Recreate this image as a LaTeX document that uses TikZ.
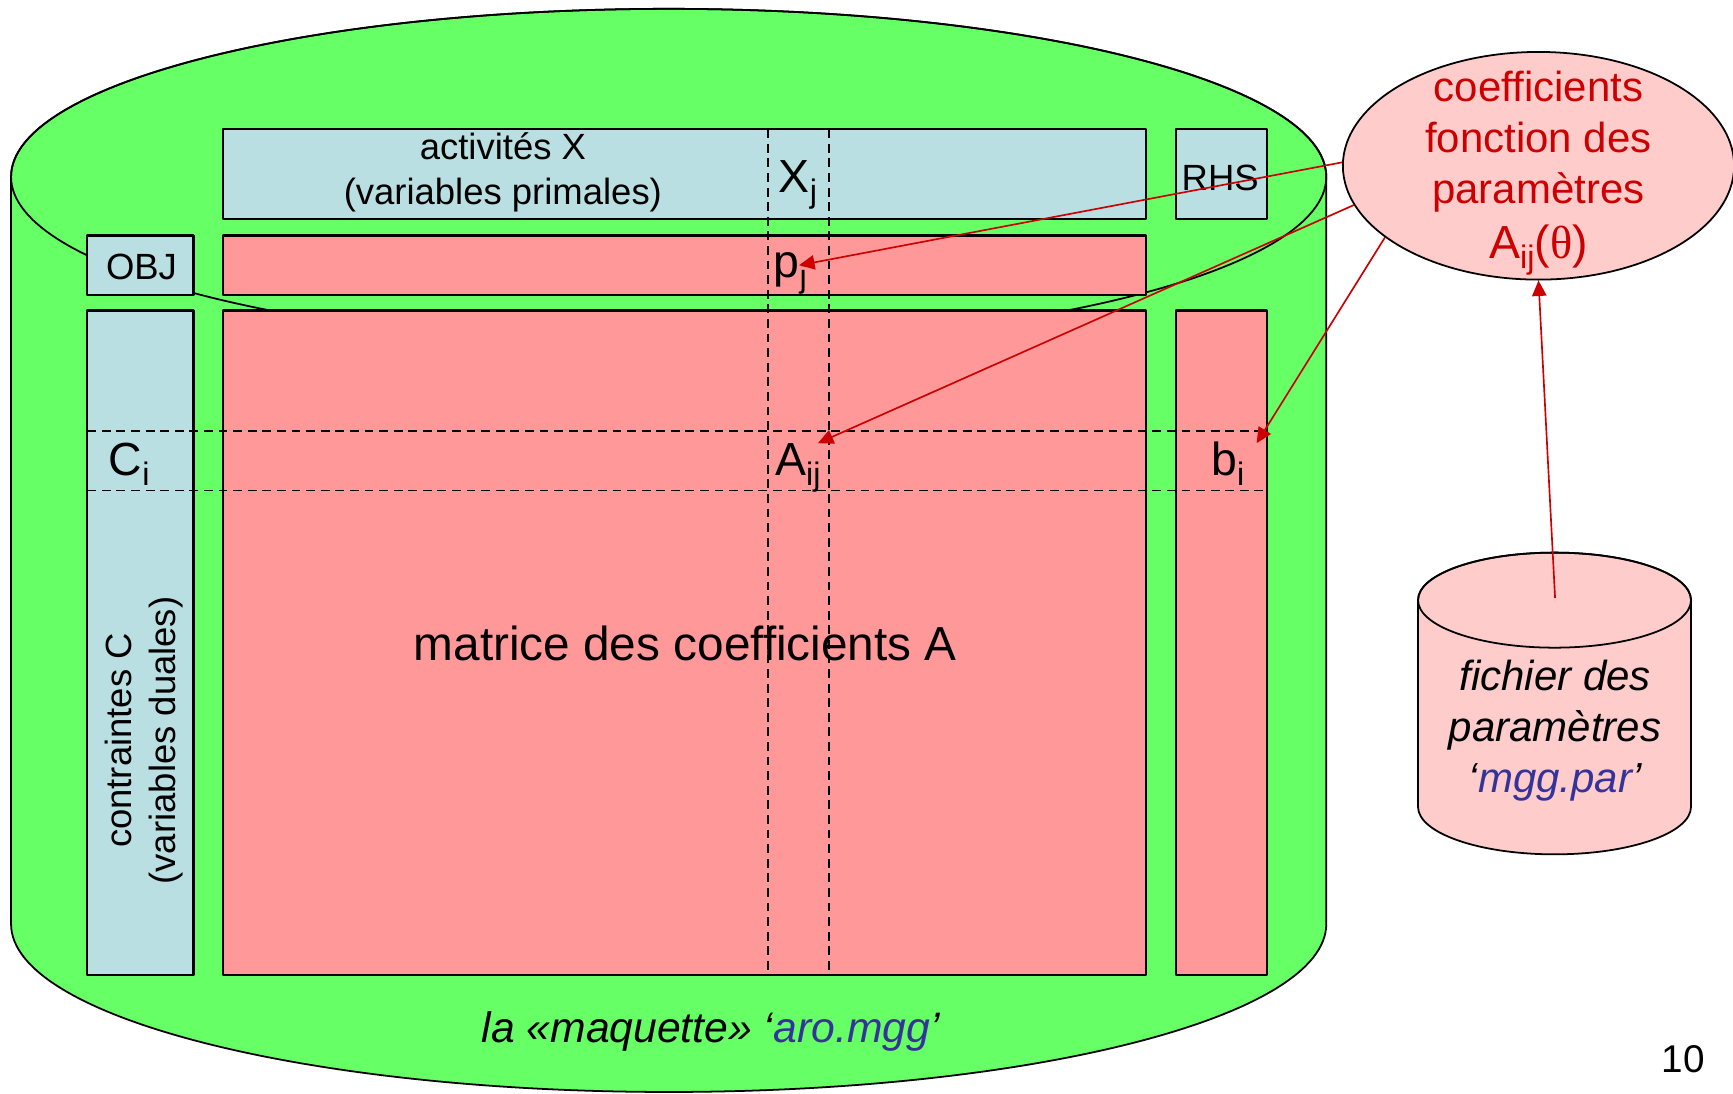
\documentclass[tikz,border=0pt]{standalone}
\usepackage{graphicx}
\usepackage{fontspec}
\setmainfont{Liberation Sans}
\newfontfamily\greekserif{Liberation Serif}
\usetikzlibrary{arrows.meta,fit,shapes.geometric}

\definecolor{modelgreen}{HTML}{66FF66}
\definecolor{headblue}{HTML}{BADFE2}
\definecolor{cellred}{HTML}{FF9999}
\definecolor{parampink}{HTML}{FFCCCC}
\definecolor{linkred}{HTML}{CC0000}
\definecolor{fileblue}{HTML}{333399}

\newcommand\fsz[2]{\fontsize{#1}{#2}\selectfont}
\newcommand\lowsub[1]{\raisebox{-0.22em}{\scalebox{0.7}{#1}}}

\tikzset{
  bluebox/.style={draw=black, line width=1pt, fill=headblue, inner sep=0pt},
  redbox/.style={draw=black, line width=1pt, fill=cellred, inner sep=0pt},
  gridline/.style={draw=black, line width=0.6pt, dash pattern=on 4pt off 2.6pt},
  label/.style={inner sep=0pt, text=black},
  small/.style={font=\fsz{16.5}{20}},
  big/.style={font=\fsz{21}{25}},
  link/.style={draw=linkred, line width=0.75pt, -{Triangle[length=7pt,width=6.5pt]}},
}

\begin{document}
\begin{tikzpicture}[x=0.5pt, y=-0.5pt, line join=round]
\useasboundingbox (0,0) rectangle (1568,989);

% the model, drawn as a large cylinder
\path[fill=modelgreen, draw=black, line width=0.8pt]
  (10,160) -- (10,836)
  arc[start angle=180, end angle=360, x radius=297.5pt, y radius=76pt]
  -- (1200,160)
  arc[start angle=0, end angle=180, x radius=297.5pt, y radius=76pt]
  -- cycle;
\draw[line width=0.8pt] (605,160) ellipse[x radius=297.5pt, y radius=76pt];

% header row, objective row and the matrix blocks
\node[bluebox, fit={(202,117) (1037,198)}] (act) {};
\node[bluebox, fit={(1064,117) (1146,198)}] (rhs) {};
\node[bluebox, fit={(79,213) (175,267)}] (obj) {};
\node[redbox, fit={(202,213) (1037,267)}] (cost) {};
\node[bluebox, fit={(79,281) (175,882)}] (cons) {};
\node[redbox, fit={(202,281) (1037,882)}] (mat) {};
\node[redbox, fit={(1064,281) (1146,882)}] (bcol) {};

% column j and row i
\draw[gridline] (695,117) -- (695,882);
\draw[gridline] (750,117) -- (750,882);
\draw[gridline] (79,390) -- (1146,390);
\draw[gridline] (79,444) -- (1146,444);

% labels of the blocks
\node[label, small, align=center] (actlbl) at (455,156) {activités X\\(variables primales)};
\node[label, small, anchor=base] (rhslbl) at (1104,172) {RHS};
\node[label, small, anchor=base] (objlbl) at (128,253) {OBJ};
\node[label, small, align=center, rotate=90] (conslbl) at (130,670) {contraintes C\\(variables duales)};
\node[label, big, anchor=base] (xj) at (722,174) {X\lowsub{j}};
\node[label, big, anchor=base] (pj) at (715,251) {p\lowsub{j}};
\node[label, big, anchor=base] (ci) at (117,430) {C\lowsub{i}};
\node[label, big, anchor=base] (aij) at (722,430) {A\lowsub{ij}};
\node[label, big, anchor=base] (bi) at (1111,430) {b\lowsub{i}};
\node[label, font=\fsz{21.6}{26}, anchor=base] (matlbl) at (620,598) {matrice des coefficients A};
\node[label, font=\fsz{19.3}{23}\itshape, anchor=base] (model) at (643,943)
  {la «maquette» ‘\textcolor{fileblue}{aro.mgg}’};
\node[label, font=\fsz{17.5}{20}, anchor=base] (page) at (1523,970) {10};

% parameter-dependent coefficients
\node[ellipse, draw=black, line width=0.8pt, fill=parampink,
      minimum width=177pt, minimum height=103pt, inner sep=0pt] (param) at (1392,150) {};
\node[label, text=linkred, font=\fsz{19}{23}, align=center] (paramlbl) at (1392,157)
  {coefficients\\fonction des\\paramètres\\[2pt]{\fsz{21}{25}A\lowsub{ij}({\greekserif θ})}};

% the parameter file, drawn as a small cylinder
\path[fill=parampink, draw=black, line width=0.8pt]
  (1283,543) -- (1283,730)
  arc[start angle=180, end angle=360, x radius=61.75pt, y radius=21.5pt]
  -- (1530,543)
  arc[start angle=0, end angle=180, x radius=61.75pt, y radius=21.5pt]
  -- cycle;
\draw[line width=0.8pt] (1406.5,543) ellipse[x radius=61.75pt, y radius=21.5pt];
\node[label, font=\fsz{19}{23}\itshape, align=center] (filelbl) at (1407,661)
  {fichier des\\paramètres\\‘\textcolor{fileblue}{mgg.par}’};
\coordinate (parfile) at (1407,541);

% where the parameters act
\coordinate (pjtip) at (723,240);
\coordinate (aijtip) at (740,401);
\coordinate (bitip) at (1137,401);
\draw[link] (param.179) -- (pjtip);
\draw[link] (param.192) -- (aijtip);
\draw[link] (param.205) -- (bitip);
\draw[link] (parfile) -- (param.south);
\end{tikzpicture}
\end{document}
